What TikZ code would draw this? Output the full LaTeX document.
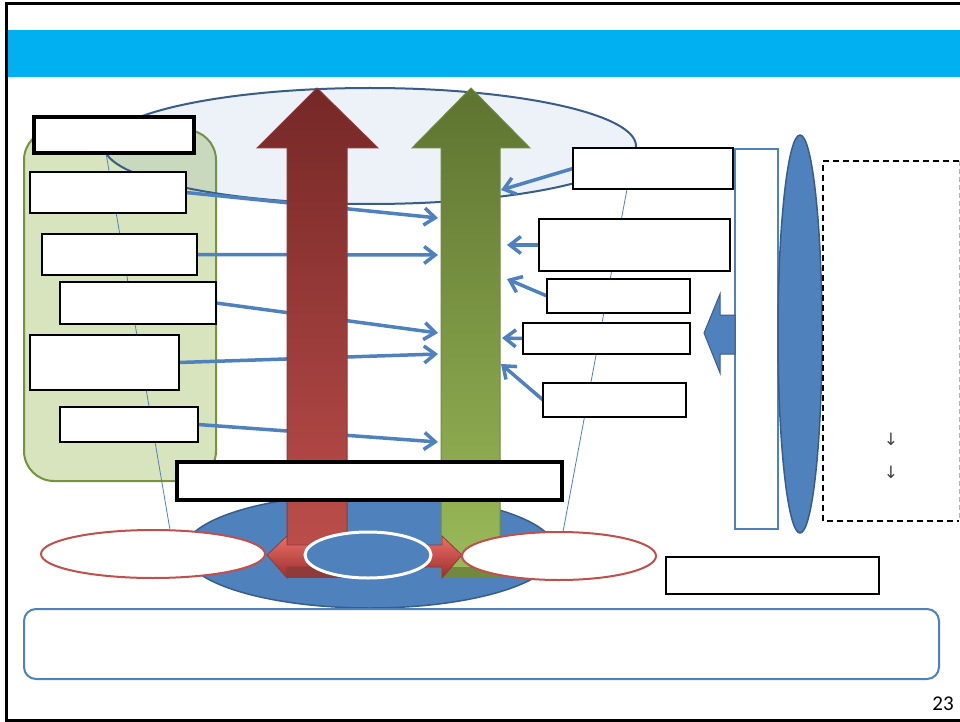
\documentclass[tikz,border=0pt]{standalone}
\usepackage{fontspec}
\setmainfont{Carlito}
\newfontfamily\djv{DejaVu Sans}
\usetikzlibrary{shapes.geometric,arrows.meta,calc}
\definecolor{accblue}{HTML}{4F81BD}
\definecolor{darkblue}{HTML}{385D8A}
\definecolor{band}{HTML}{00B0F0}
\definecolor{greenfill}{HTML}{D7E4BD}
\definecolor{greenline}{HTML}{77933C}
\definecolor{redline}{HTML}{C0504D}
\definecolor{redtop}{HTML}{752827}
\definecolor{redbot}{HTML}{C0504D}
\definecolor{redout}{HTML}{8E3B39}
\definecolor{redlight}{HTML}{EC6F6A}
\definecolor{redmid}{HTML}{D0443F}
\definecolor{reddeep}{HTML}{9A2E2B}
\definecolor{grtop}{HTML}{5D7330}
\definecolor{grbot}{HTML}{9BBB59}
\definecolor{grout}{HTML}{71893F}
\begin{document}
\begin{tikzpicture}[x=1pt,y=-1pt,
  bx/.style={draw=black, fill=white, line width=2.5pt, inner sep=0pt},
  conn/.style={draw=accblue, line width=3.5pt, -{Straight Barb[length=11pt,width=17pt]}},
  thinl/.style={draw=accblue, line width=0.8pt},
  redell/.style={ellipse, draw=redline, fill=white, line width=2pt, inner sep=0pt},
  plain/.style={inner sep=0pt, outer sep=0pt},
  downmark/.style={inner sep=0pt, outer sep=0pt, text=black!75, font=\djv\fontsize{17}{17}\selectfont}]
\useasboundingbox (0,0) rectangle (960,722);
% frame and title band
\fill[white] (0,0) rectangle (960,722);
\draw[line width=3pt] (6,4) rectangle (968,720);
\fill[band] (7.5,30) rectangle (960,77);
% green group
\node[plain, draw=greenline, fill=greenfill, line width=2pt, rounded corners=30pt,
      minimum width=192, minimum height=351] (grp) at (120,305.5) {};
% top ellipse
\node[plain, ellipse, draw=darkblue, fill=accblue, fill opacity=0.1, draw opacity=1,
      line width=2pt, minimum width=532, minimum height=116] (topell) at (370,146) {};
% bottom blue ellipse
\node[plain, ellipse, draw=darkblue, fill=accblue, line width=1.5pt,
      minimum width=372, minimum height=114] (botell) at (370,551) {};
% placeholders for the red ellipses (drawn later)
\path (153,554) node[plain, ellipse, minimum width=224, minimum height=48] (le) {};
\path (559,556) node[plain, ellipse, minimum width=194, minimum height=48] (re) {};
% box placeholders (drawn later, over the connectors)
\path (114,135) node[plain, minimum width=160, minimum height=36] (b1) {};
\path (108,192.5) node[plain, minimum width=156, minimum height=41] (b2) {};
\path (119.5,254.5) node[plain, minimum width=155, minimum height=41] (b3) {};
\path (138,303) node[plain, minimum width=156, minimum height=42] (b4) {};
\path (104.5,362.5) node[plain, minimum width=149, minimum height=55] (b5) {};
\path (129,424.5) node[plain, minimum width=138, minimum height=35] (b6) {};
\path (653,168.5) node[plain, minimum width=160, minimum height=41] (r1) {};
\path (634.5,245) node[plain, minimum width=191, minimum height=52] (r2) {};
\path (618.5,296) node[plain, minimum width=143, minimum height=34] (r3) {};
\path (606.5,338.5) node[plain, minimum width=167, minimum height=31] (r4) {};
\path (614.5,400) node[plain, minimum width=143, minimum height=34] (r5) {};
% thin guide lines
\draw[thinl] ([xshift=-8pt]b1.south) -- ([xshift=17pt]le.north);
\draw[thinl] ([xshift=-26pt]r1.south) -- ([xshift=4pt]re.north);
% connector tips
\coordinate (t1) at (438,218);
\coordinate (t2) at (438,255);
\coordinate (t3) at (438,333);
\coordinate (t4) at (438,354);
\coordinate (t5) at (438,442);
\coordinate (s1) at (501,190);
\coordinate (s2) at (507,245);
\coordinate (s3) at (507,279);
\coordinate (s4) at (502,338);
\coordinate (s5) at (501,364);
\draw[conn] (b2.east) -- (t1);
\draw[conn] (b3.east) -- (t2);
\draw[conn] (b4.east) -- (t3);
\draw[conn] (b5.east) -- (t4);
\draw[conn] (b6.east) -- (t5);
\draw[conn] (r1.west) -- (s1);
\draw[conn] (r2.west) -- (s2);
\draw[conn] (r3.west) -- (s3);
\draw[conn] (r4.west) -- (s4);
\draw[conn] (r5.west) -- (s5);
% big up arrows
\shade[top color=redtop, bottom color=redbot, draw=redout, line width=1pt]
  (287,577) -- (287,148) -- (257,148) -- (317,88) -- (378,148) -- (347,148) -- (347,577) -- cycle;
\shade[top color=grtop, bottom color=grbot, draw=grout, line width=1pt]
  (441,577) -- (441,148) -- (412,148) -- (471,88) -- (530,148) -- (500,148) -- (500,577) -- cycle;
\fill[redout] (287,567) rectangle (347,578);
\fill[grout] (441,567) rectangle (500,578);
% wide box
\node[bx, line width=3.5pt, minimum width=385, minimum height=38] (wide) at (369.5,481) {};
% red double arrow
\shade[top color=redlight, middle color=redmid, bottom color=reddeep, draw=redout, line width=0.8pt]
  (267,555) -- (287,536) -- (287,545) -- (442,545) -- (442,536) -- (462,555) -- (442,578) -- (442,567) -- (287,567) -- (287,578) -- cycle;
% ellipses at bottom
\node[plain, ellipse, draw=white, fill=accblue, line width=3pt, minimum width=126, minimum height=46] (ce) at (368,555) {};
\node[redell, minimum width=224, minimum height=48] at (le) {};
\node[redell, minimum width=194, minimum height=48] at (re) {};
% white boxes
\node[bx, line width=3.5pt, minimum width=160, minimum height=36] at (b1) {};
\node[bx, minimum width=156, minimum height=41] at (b2) {};
\node[bx, minimum width=155, minimum height=41] at (b3) {};
\node[bx, minimum width=156, minimum height=42] at (b4) {};
\node[bx, minimum width=149, minimum height=55] at (b5) {};
\node[bx, minimum width=138, minimum height=35] at (b6) {};
\node[bx, minimum width=160, minimum height=41] at (r1) {};
\node[bx, minimum width=191, minimum height=52] at (r2) {};
\node[bx, minimum width=143, minimum height=34] at (r3) {};
\node[bx, minimum width=167, minimum height=31] at (r4) {};
\node[bx, minimum width=143, minimum height=34] at (r5) {};
\node[bx, line width=2pt, minimum width=213, minimum height=37] (br) at (772.5,575.5) {};
% right column
\node[plain, draw=accblue, fill=white, line width=2pt, minimum width=43, minimum height=380] (tall) at (756.5,339) {};
\node[plain, ellipse, draw=darkblue, fill=accblue, line width=1.5pt, minimum width=44, minimum height=398] (tallell) at (800,334) {};
\filldraw[fill=accblue, draw=darkblue, line width=1pt]
  (tall.west |- 0,315) -- (720,315) -- (720,294) -- (704,333) -- (720,373) -- (720,354) -- (tall.west |- 0,354) -- cycle;
% dashed box
\node[plain, minimum width=136, minimum height=360] (db) at (891,341) {};
\draw[line width=2pt, dash pattern=on 6pt off 4pt] (db.north east) -- (db.north west) -- (db.south west) -- (db.south east);
\draw[gray!60, line width=1pt, dash pattern=on 5pt off 3pt] (db.north east) -- (db.south east);
\node[downmark] (dA) at (891,439) {↓};
\node[downmark] (dB) at (891,472) {↓};
% bottom rounded box
\node[plain, draw=accblue, fill=white, line width=2pt, rounded corners=12pt, minimum width=915, minimum height=70] (note) at (481.5,644) {};
% page number
\node[plain, font=\fontsize{21}{21}\selectfont] (pg) at (943,704) {23};
\end{tikzpicture}
\end{document}
